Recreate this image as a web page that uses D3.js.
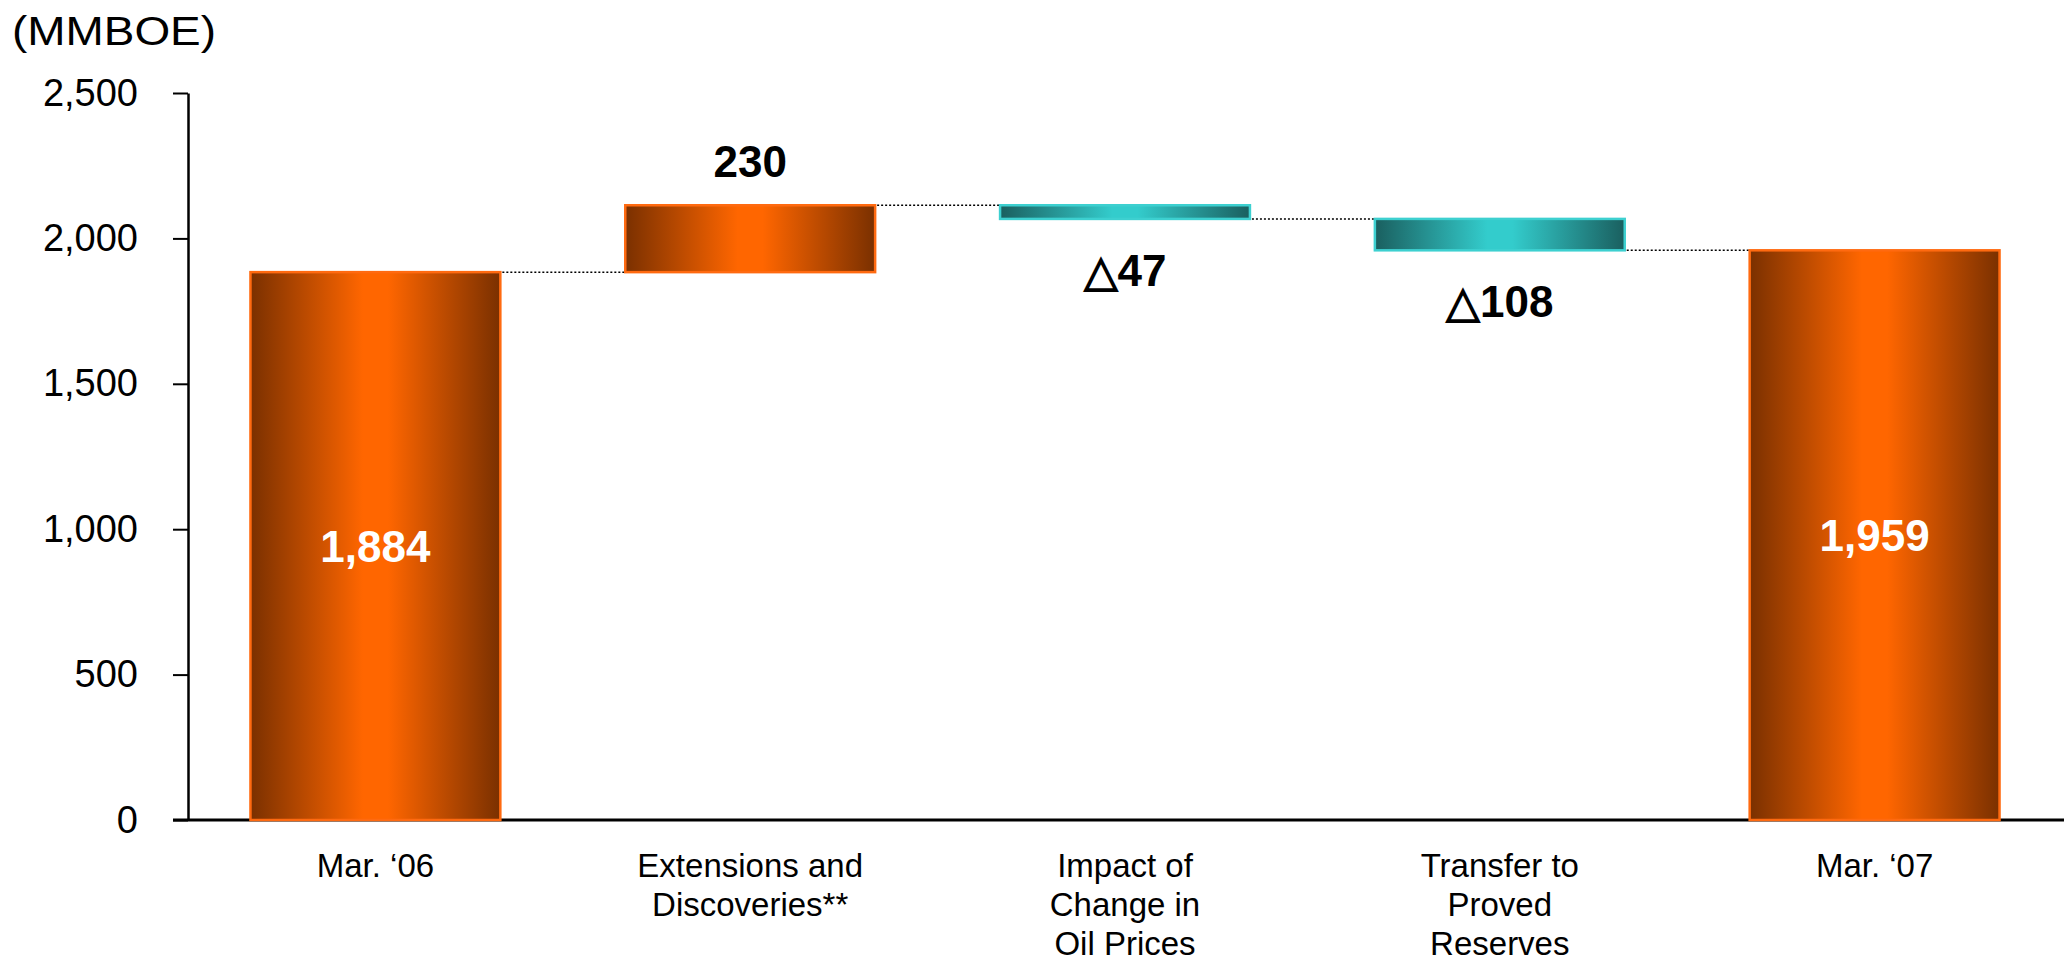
<!DOCTYPE html>
<html>
<head>
<meta charset="utf-8">
<script src="https://cdn.jsdelivr.net/npm/d3@7"></script>
<style>
  body { margin: 0; background: #fff; }
  svg { display: block; font-family: "Liberation Sans", Arial, sans-serif; }
</style>
</head>
<body>
<script>
// categories and values (MMBOE)
var categories = ["Mar. \u201806", "Extensions and|Discoveries**", "Impact of|Change in|Oil Prices", "Transfer to|Proved|Reserves", "Mar. \u201807"];
var values = [1884, 230, -47, -108, 1959];
var kinds = ["total", "delta", "delta", "delta", "total"];
var valueLabels = ["1,884", "230", "\u25B347", "\u25B3108", "1,959"];
var yTicks = [0, 500, 1000, 1500, 2000, 2500];

let outerWidth = 2064;
let outerHeight = 963;
let axisX = 188;
let axisY = 820;
let topY = 93;

// running totals for the waterfall
let steps = [];
let running = 0;
values.forEach(function(v, i) {
    if (kinds[i] == "total") {
        steps.push({cat: categories[i], start: 0, end: v, value: v, label: valueLabels[i], kind: "total"});
        running = v;
    } else {
        steps.push({cat: categories[i], start: running, end: running + v, value: v, label: valueLabels[i], kind: v >= 0 ? "up" : "down"});
        running += v;
    }
});

let svg = d3.select("body")
    .append("svg")
    .attr("width", outerWidth)
    .attr("height", outerHeight);

let defs = svg.append("defs");
function addGradient(id, edge, mid) {
    let g = defs.append("linearGradient")
        .attr("id", id)
        .attr("x1", "0%").attr("x2", "100%")
        .attr("y1", "0%").attr("y2", "0%");
    g.append("stop").attr("offset", "0%").attr("stop-color", edge);
    g.append("stop").attr("offset", "45%").attr("stop-color", mid);
    g.append("stop").attr("offset", "55%").attr("stop-color", mid);
    g.append("stop").attr("offset", "100%").attr("stop-color", edge);
}
addGradient("orangeGrad", "#7a3000", "#ff6600");
addGradient("tealGrad", "#1a5f5f", "#33cccc");

let xScale = d3.scaleBand()
    .domain(categories)
    .range([axisX, 2062])
    .paddingInner(1 / 3)
    .paddingOuter(1 / 6);

let yScale = d3.scaleLinear()
    .domain([0, 2500])
    .range([axisY, topY]);

// y axis
let yAxis = d3.axisLeft(yScale)
    .tickValues(yTicks)
    .tickFormat(d3.format(","))
    .tickSize(15)
    .tickSizeOuter(0)
    .tickPadding(35);

let yAxisG = svg.append("g")
    .attr("transform", "translate(" + axisX + ",0)")
    .call(yAxis);
yAxisG.select(".domain").attr("stroke", "#000").attr("stroke-width", 2.5);
yAxisG.selectAll(".tick line").attr("stroke", "#000").attr("stroke-width", 2);
yAxisG.selectAll(".tick text")
    .attr("fill", "#000")
    .style("font-size", "38px")
    .style("font-family", "'Liberation Sans', Arial, sans-serif");

// x axis line
svg.append("line")
    .attr("x1", axisX - 15)
    .attr("x2", outerWidth)
    .attr("y1", axisY)
    .attr("y2", axisY)
    .attr("stroke", "#000")
    .attr("stroke-width", 3);

svg.append("text")
    .attr("x", 12)
    .attr("y", 45)
    .style("font-size", "40px")
    .attr("textLength", 204)
    .attr("lengthAdjust", "spacingAndGlyphs")
    .text("(MMBOE)");

// connector lines
let connectors = svg.append("g").attr("class", "connectors");
steps.forEach(function(d, i) {
    if (i == steps.length - 1) return;
    connectors.append("line")
        .attr("x1", xScale(d.cat) + xScale.bandwidth() - 6)
        .attr("x2", xScale(steps[i + 1].cat))
        .attr("y1", yScale(d.end))
        .attr("y2", yScale(d.end))
        .attr("stroke", "#000")
        .attr("stroke-width", 1.5)
        .attr("stroke-dasharray", "2,2");
});

// bars
let barGroup = svg.append("g").attr("class", "bars");
barGroup.selectAll(".bar")
    .data(steps)
    .enter()
    .append("rect")
        .attr("class", "bar")
        .attr("x", function(d) { return xScale(d.cat); })
        .attr("width", xScale.bandwidth())
        .attr("y", function(d) { return yScale(Math.max(d.start, d.end)); })
        .attr("height", function(d) {
            return Math.abs(yScale(d.start) - yScale(d.end));
        })
        .attr("fill", function(d) {
            return d.kind == "down" ? "url(#tealGrad)" : "url(#orangeGrad)";
        })
        .attr("stroke", function(d) {
            return d.kind == "down" ? "#3dd0d0" : "#ff6a10";
        })
        .attr("stroke-width", 2.5);

// value labels
let labelGroup = svg.append("g").attr("class", "valueLabels");
labelGroup.selectAll(".valueLabel")
    .data(steps)
    .enter()
    .append("text")
        .attr("class", "valueLabel")
        .attr("x", function(d) { return xScale(d.cat) + xScale.bandwidth() / 2; })
        .attr("y", function(d) {
            if (d.kind == "total") return (yScale(d.end) + yScale(0)) / 2 + 16;
            if (d.kind == "up") return yScale(d.end) - 28;
            return yScale(d.end) + 67;
        })
        .attr("text-anchor", "middle")
        .attr("fill", function(d) { return d.kind == "total" ? "#fff" : "#000"; })
        .style("font-size", "44px")
        .style("font-weight", "bold")
        .text(function(d) { return d.label; });

// category labels
let catGroup = svg.append("g").attr("class", "catLabels");
steps.forEach(function(d) {
    let t = catGroup.append("text")
        .attr("x", xScale(d.cat) + xScale.bandwidth() / 2)
        .attr("y", 877)
        .attr("text-anchor", "middle")
        .style("font-size", "33px")
        .attr("fill", "#000");
    d.cat.split("|").forEach(function(line, j) {
        t.append("tspan")
            .attr("x", xScale(d.cat) + xScale.bandwidth() / 2)
            .attr("dy", j == 0 ? 0 : 39)
            .text(line);
    });
});
</script>
</body>
</html>
